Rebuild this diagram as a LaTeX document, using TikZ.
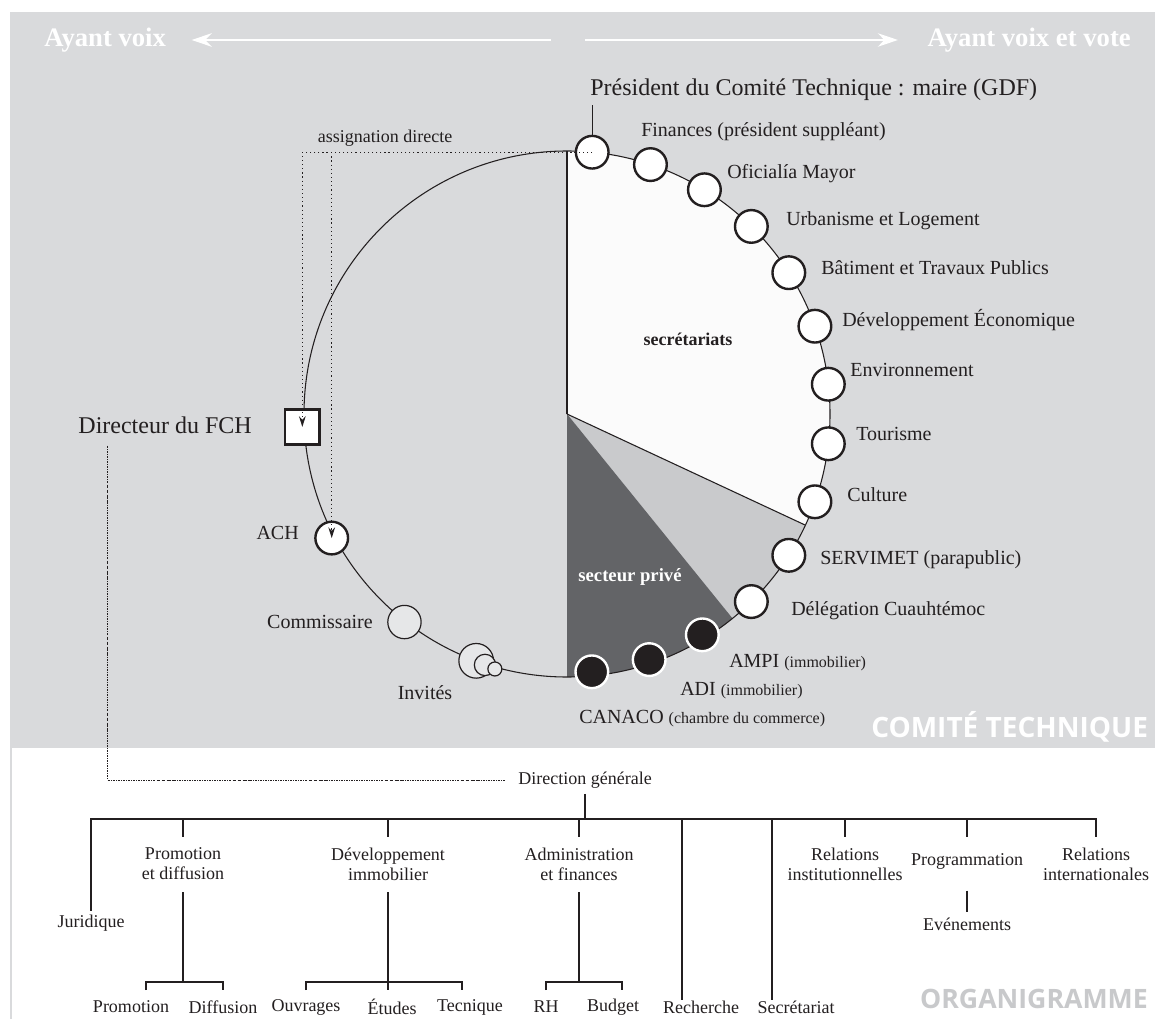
\documentclass[tikz,border=0pt]{standalone}
\usepackage{fontspec}
\setmainfont{Liberation Serif}
\newfontfamily\headfont{Open Sans}
\usetikzlibrary{arrows.meta}

\definecolor{ink}{RGB}{35,31,32}
\definecolor{bggray}{RGB}{217,218,220}
\definecolor{secwhite}{RGB}{251,251,251}
\definecolor{seclight}{RGB}{201,202,204}
\definecolor{secdark}{RGB}{99,100,103}
\definecolor{guestfill}{RGB}{230,231,232}
\definecolor{orgtitle}{RGB}{200,201,203}

\tikzset{
  seat/.style={circle, draw=ink, fill=white, line width=1.8pt, minimum size=24.5pt, inner sep=0pt},
  privseat/.style={circle, draw=white, fill=ink, line width=1.8pt, minimum size=24.5pt, inner sep=0pt},
  guest/.style={circle, draw=ink, fill=guestfill, line width=0.9pt, inner sep=0pt},
  fchbox/.style={rectangle, draw=ink, fill=white, line width=2.2pt, minimum size=26pt, inner sep=0pt},
  headlbl/.style={inner sep=0pt, text=white, font=\bfseries\fontsize{20}{22}\selectfont},
  biglbl/.style={inner sep=0pt, text=ink, font=\fontsize{18}{21}\selectfont},
  lbl/.style={inner sep=0pt, text=ink, font=\fontsize{15}{18}\selectfont},
  smalllbl/.style={inner sep=0pt, text=ink, font=\fontsize{13.5}{15}\selectfont},
  orglbl/.style={inner sep=0pt, text=ink, align=center, font=\fontsize{13.5}{15}\selectfont},
  titlelbl/.style={inner sep=0pt, font=\headfont\bfseries\fontsize{21}{23}\selectfont},
  warrow/.style={white, line width=2.2pt, -{Stealth[length=15pt, width=10pt]}},
  thinline/.style={ink, line width=0.8pt},
  orgline/.style={ink, line width=1.3pt},
  assign/.style={ink, line width=0.9pt, dash pattern={on 0.9pt off 2.2pt}, -{Stealth[length=8pt, width=5pt]}},
  fchlink/.style={ink, line width=0.7pt, dash pattern={on 1.6pt off 0.9pt on 0.4pt off 0.9pt}}
}
\newcommand{\paren}[1]{{\fontsize{12}{14}\selectfont #1}}

\begin{document}
\begin{tikzpicture}[x=0.75pt,y=0.75pt,yscale=-1]
\useasboundingbox (0,0) rectangle (1155,1019);

%Shape: Rectangle
\fill[white] (0,0) rectangle (1155,1019);
\fill[bggray] (10,12) rectangle (1155,748);
\draw[bggray, line width=1pt] (11,748) -- (11,1019);

% Text Node
\node[headlbl, anchor=west] (ayL) at (44,40) {Ayant voix};
% Text Node
\node[headlbl, anchor=east] (ayR) at (1131,40) {Ayant voix et vote};
\coordinate (arL) at (551,40);
\coordinate (arR) at (585,40);
%Straight Lines
\draw[warrow] (arL) -- ([xshift=19pt]ayL.east);
\draw[warrow] (arR) -- ([xshift=-22pt]ayR.west);

%Shape: Pie
\coordinate (ctr) at (567,414);
\fill[secwhite] (ctr) -- ++(-90:263) arc[start angle=-90, end angle=25, radius=263] -- cycle;
\fill[seclight] (ctr) -- ++(25:263) arc[start angle=25, end angle=51, radius=263] -- cycle;
\fill[secdark] (ctr) -- ++(51:263) arc[start angle=51, end angle=90, radius=263] -- cycle;
%Shape: Circle
\draw[thinline] (ctr) circle[radius=263];
%Straight Lines
\draw[thinline] (ctr) -- ++(-90:263);
\draw[thinline] (ctr) -- ++(25:263);

%Shape: Circle (voting seats)
\foreach \a/\n in {-84.5/pres, -71.5/fin, -58.5/ofi, -45.5/urb, -32.5/bat, -19.5/deco, -6.5/env,
                   6.5/tour, 19.5/cult, 32.5/serv, 45.5/deleg}
  \path (ctr) ++(\a:263) node[seat] (\n) {};
\foreach \a/\n in {58.5/ampi, 71.5/adi, 84.5/canaco}
  \path (ctr) ++(\a:259) node[privseat] (\n) {};

%Shape: Square and circles (advisory seats)
\path (ctr) ++(-182.8:265) node[fchbox] (dir) {};
\path (ctr) ++(-207.8:266) node[seat] (ach) {};
\path (ctr) ++(-232:264) node[guest, minimum size=25pt] (com) {};
\path (ctr) ++(-249.8:263) node[guest, minimum size=26pt] (inv1) {};
\path (ctr) ++(-251.9:264) node[guest, minimum size=16pt] (inv2) {};
\path (ctr) ++(-254.2:265) node[guest, minimum size=10.5pt] (inv3) {};

% Text Node
\node[biglbl, anchor=west] (presL) at (590,90) {Président du Comité Technique : maire (GDF)};
\draw[thinline, shorten >=3pt] (pres.north) -- (pres.north |- presL.south);

% Text Node
\node[lbl, anchor=west] (finL) at (641,132) {Finances (président suppléant)};
\node[lbl, anchor=west] (ofiL) at (727,174) {Oficialía Mayor};
\node[lbl, anchor=west] (urbL) at (786,221) {Urbanisme et Logement};
\node[lbl, anchor=west] (batL) at (821,268) {Bâtiment et Travaux Publics};
\node[lbl, anchor=west] (decoL) at (842,320) {Développement Économique};
\node[lbl, anchor=west] (envL) at (850,370) {Environnement};
\node[lbl, anchor=west] (tourL) at (856,434) {Tourisme};
\node[lbl, anchor=west] (cultL) at (847,495) {Culture};
\node[lbl, anchor=west] (servL) at (820,560) {SERVIMET (parapublic)};
\node[lbl, anchor=west] (delegL) at (791,611) {Délégation Cuauhtémoc};
\node[lbl, anchor=west] (ampiL) at (729,663) {AMPI \paren{(immobilier)}};
\node[lbl, anchor=west] (adiL) at (680,691) {ADI \paren{(immobilier)}};
\node[lbl, anchor=west] (canacoL) at (579,719) {CANACO \paren{(chambre du commerce)}};

% Text Node
\node[smalllbl, font=\bfseries\fontsize{13.5}{15}\selectfont] (secL) at (688,339) {secrétariats};
\node[smalllbl, text=white, font=\bfseries\fontsize{14}{16}\selectfont] (privL) at (630,577) {secteur privé};

% Text Node
\node[biglbl, anchor=east] (dirL) at (252,425) {Directeur du FCH};
\node[lbl, anchor=east] (achL) at (299,533) {ACH};
\node[lbl, anchor=east] (comL) at (373,622) {Commissaire};
\node[lbl] (invL) at (425,693) {Invités};
\node[smalllbl] (assL) at (385,138) {assignation directe};

%Straight Lines (assignation directe)
\draw[assign] (pres.center) -| (dir.center);
\draw[assign] (ach.center |- pres.center) -- (ach.center);

% Text Node
\node[titlelbl, text=white, anchor=west] (ctL) at (871,727) {COMITÉ TECHNIQUE};
\node[titlelbl, text=orgtitle, anchor=east, font=\headfont\bfseries\fontsize{20}{22}\selectfont] (orgL) at (1148,999) {ORGANIGRAMME};

% Organigramme
\coordinate (bar) at (0,819);
\coordinate (tick) at (0,837);
\coordinate (drop) at (0,892);
\coordinate (subbar) at (0,982);
\coordinate (subtick) at (0,990);

\node[orglbl] (dg) at (585,780) {Direction générale};
\node[orglbl] (jur) at (91,923) {Juridique};
\node[orglbl] (promo) at (183,864) {Promotion\\et diffusion};
\node[orglbl] (devim) at (388,864) {Développement\\immobilier};
\node[orglbl] (adfin) at (579,864) {Administration\\et finances};
\node[orglbl] (relinst) at (845,864) {Relations\\institutionnelles};
\node[orglbl] (progr) at (967,861) {Programmation};
\node[orglbl] (relint) at (1096,864) {Relations\\internationales};
\node[orglbl] (even) at (967,924) {Evénements};
\node[orglbl] (promoA) at (131,1007) {Promotion};
\node[orglbl] (diff) at (223,1007) {Diffusion};
\node[orglbl] (ouvr) at (306,1007) {Ouvrages};
\node[orglbl] (etud) at (392,1007) {Études};
\node[orglbl] (tecn) at (470,1007) {Tecnique};
\node[orglbl] (rh) at (546,1007) {RH};
\node[orglbl] (budg) at (613,1007) {Budget};
\node[orglbl] (rech) at (701,1007) {Recherche};
\node[orglbl] (secr) at (796,1007) {Secrétariat};

\draw[fchlink, shorten <=9pt, shorten >=10pt] ([xshift=22pt]dirL.south west) |- (dg.west);
\draw[orgline, shorten <=4pt] (dg.south) -- (dg.south |- bar);
\draw[orgline, shorten <=3pt] (jur.north) |- (relint.north |- bar) -- (relint.north |- tick);
\foreach \n in {promo, devim, adfin, relinst, progr}
  \draw[orgline] (\n.north |- bar) -- (\n.north |- tick);
\foreach \n in {promo, devim, adfin}
  \draw[orgline] (\n.south |- drop) -- (\n.south |- subbar);
\draw[orgline] (devim.south |- subbar) -- (devim.south |- subtick);
\draw[orgline] ([xshift=11pt]promoA.north |- subtick) |- (diff.north |- subbar) -- (diff.north |- subtick);
\draw[orgline] (ouvr.north |- subtick) |- ([xshift=-6pt]tecn.north |- subbar) -- ([xshift=-6pt]tecn.north |- subtick);
\draw[orgline] (rh.north |- subtick) |- ([xshift=7pt]budg.north |- subbar) -- ([xshift=7pt]budg.north |- subtick);
\draw[orgline] ([xshift=-14pt]rech.north |- bar) -- ([xshift=-14pt]rech.north);
\draw[orgline] ([xshift=-18pt]secr.north |- bar) -- ([xshift=-18pt]secr.north);
\draw[orgline, shorten <=16pt, shorten >=4pt] (progr.south) -- (even.north);

\end{tikzpicture}
\end{document}
